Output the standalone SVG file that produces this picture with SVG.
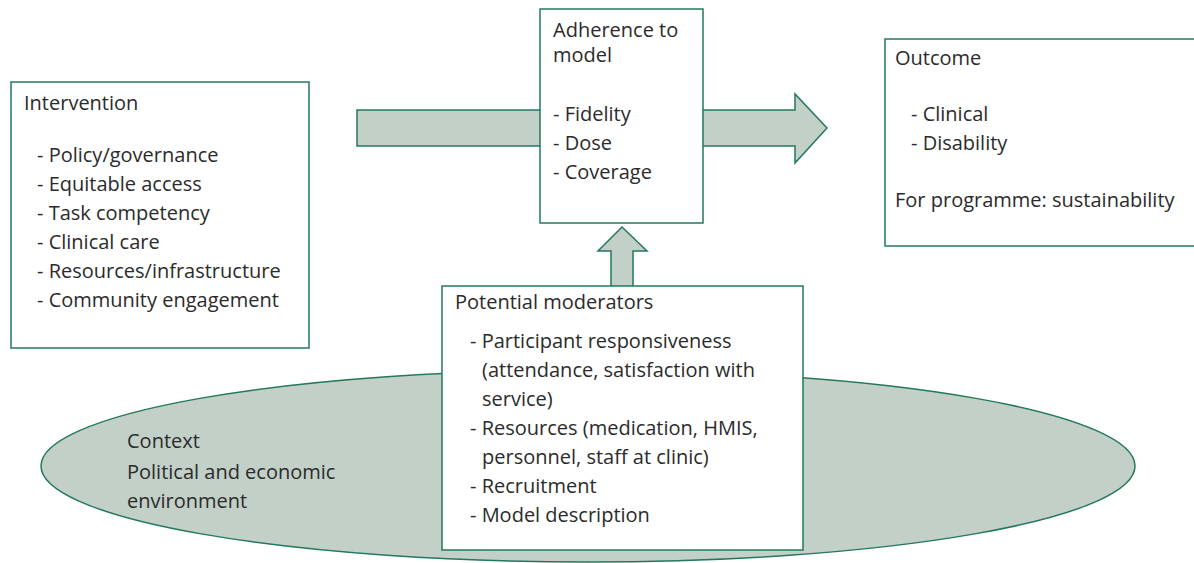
<svg xmlns="http://www.w3.org/2000/svg" width="1194" height="563" viewBox="0 0 1194 563">
<style>
.box{fill:#ffffff;stroke:#23795a;stroke-width:1.5}
.shape{fill:#c2d0c8;stroke:#23795a;stroke-width:1.5}
text{font-family:"Open Sans","Noto Sans",sans-serif;font-size:20px;fill:#2b2b2b}
</style>
<rect width="1194" height="563" fill="#ffffff"/>
<g id="context">
<ellipse class="shape" cx="588" cy="466" rx="547" ry="96"/>
<text x="127" y="448">Context</text>
<text x="127" y="479">Political and economic</text>
<text x="127" y="508">environment</text>
</g>
<g id="connectors">
<polygon class="shape" points="357,110 795,110 795,94 827,128 795,163 795,146 357,146"/>
<polygon class="shape" points="611,290 611,251 598,251 622,227 647,251 633,251 633,290"/>
</g>
<g id="intervention">
<rect class="box" x="11" y="82" width="298" height="266"/>
<text x="24" y="110">Intervention</text>
<text x="37" y="162">- Policy/governance</text>
<text x="37" y="191">- Equitable access</text>
<text x="37" y="220">- Task competency</text>
<text x="37" y="249">- Clinical care</text>
<text x="37" y="278">- Resources/infrastructure</text>
<text x="37" y="307">- Community engagement</text>
</g>
<g id="adherence">
<rect class="box" x="540" y="9" width="163" height="214"/>
<text x="553" y="37">Adherence to</text>
<text x="553" y="62">model</text>
<text x="553" y="121">- Fidelity</text>
<text x="553" y="150">- Dose</text>
<text x="553" y="179">- Coverage</text>
</g>
<g id="outcome">
<rect class="box" x="885" y="39" width="320" height="207"/>
<text x="895" y="65">Outcome</text>
<text x="911" y="121">- Clinical</text>
<text x="911" y="150">- Disability</text>
<text x="895" y="207">For programme: sustainability</text>
</g>
<g id="moderators">
<rect class="box" x="442" y="286" width="361" height="264"/>
<text x="455" y="309">Potential moderators</text>
<text x="470" y="348">- Participant responsiveness</text>
<text x="482" y="377">(attendance, satisfaction with</text>
<text x="482" y="406">service)</text>
<text x="470" y="435">- Resources (medication, HMIS,</text>
<text x="482" y="464">personnel, staff at clinic)</text>
<text x="470" y="493">- Recruitment</text>
<text x="470" y="522">- Model description</text>
</g>
</svg>
